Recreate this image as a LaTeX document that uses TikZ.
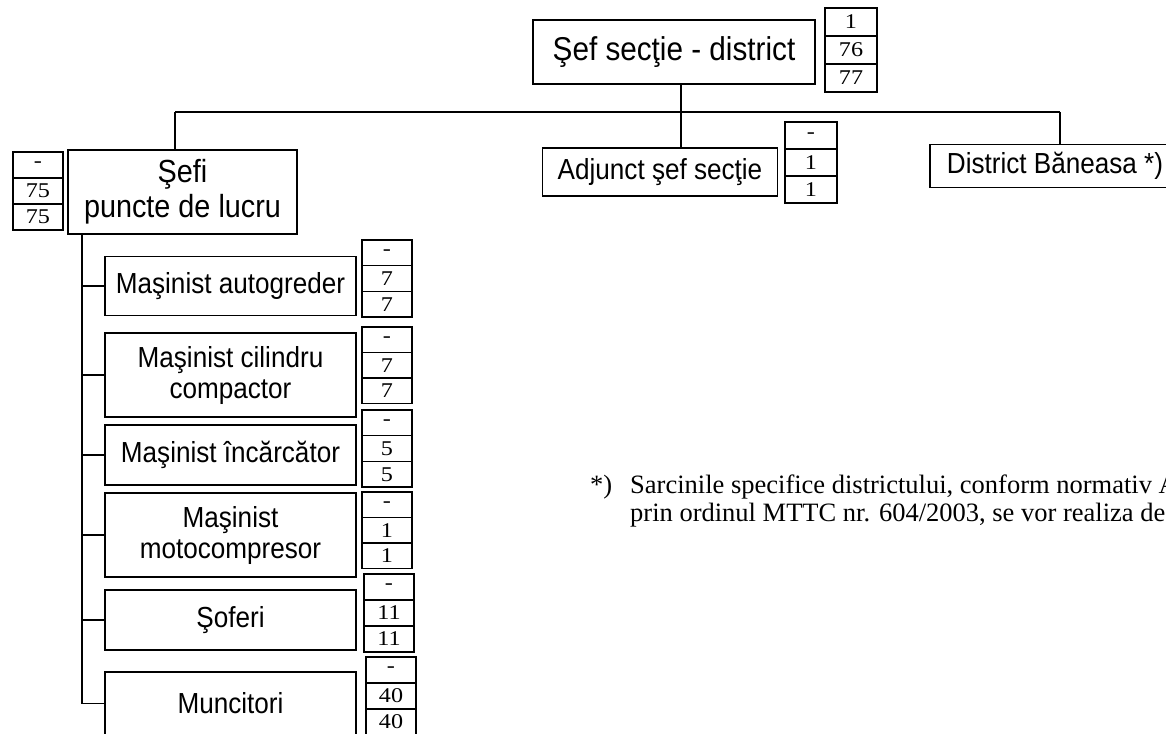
\documentclass[tikz,border=0pt]{standalone}
\usepackage{fontspec}
\setmainfont{Liberation Serif}
\newfontfamily\boxfont[FakeStretch=0.9]{Liberation Sans}
\newfontfamily\numfont[FakeStretch=1.15]{Liberation Serif}
\begin{document}
\begin{tikzpicture}[x=1pt,y=-1pt,
  box/.style={draw, line width=1.7pt, rectangle, inner sep=2pt, outer sep=0pt, align=center, font=\boxfont\fontsize{29}{31}\selectfont},
  bigbox/.style={box, font=\boxfont\fontsize{33}{35}\selectfont},
  numcell/.style={draw, line width=1.4pt, rectangle, inner sep=0pt, outer sep=0pt, minimum width=50pt, font=\numfont\fontsize{21}{22}\selectfont, anchor=north},
  conn/.style={line width=1.5pt},
  foot/.style={anchor=base west, inner sep=0pt, font=\fontsize{26.5}{28}\selectfont}]
\useasboundingbox (0,0) rectangle (1166,733);
\clip (0,0) rectangle (1166,733);

% top
\node[bigbox, minimum width=282pt, minimum height=64pt] (top) at (674,52) {Şef secţie - district};
\node[numcell, minimum height=28pt, minimum width=52pt] (ta) at (851,8) {1};
\node[numcell, minimum height=28pt, minimum width=52pt] (tb) at (ta.south) {76};
\node[numcell, minimum height=28pt, minimum width=52pt] (tc) at (tb.south) {77};

% second level
\node[bigbox, minimum width=229pt, minimum height=84pt, font=\boxfont\fontsize{32}{35}\selectfont] (sefi) at (182.5,192) {Şefi\\puncte de lucru};
\node[numcell, minimum height=26pt] (sa) at (38,152) {-};
\node[numcell, minimum height=26pt] (sb) at (sa.south) {75};
\node[numcell, minimum height=26pt] (sc) at (sb.south) {75};

\node[box, minimum width=235pt, minimum height=48pt] (adj) at (660,172) {Adjunct şef secţie};
\node[numcell, minimum height=27pt, minimum width=52pt] (aa) at (811,122) {-};
\node[numcell, minimum height=27pt, minimum width=52pt] (ab) at (aa.south) {1};
\node[numcell, minimum height=27pt, minimum width=52pt] (ac) at (ab.south) {1};

\node[box, minimum width=250pt, minimum height=43pt] (dist) at (1055,166) {District Băneasa *)};

% connectors top
\coordinate (vx) at (681,0);
\coordinate (busL) at (175,112);
\coordinate (busR) at (1060,112);
\draw[conn] (busL) -- (busR);
\draw[conn] (top.south -| vx) -- (adj.north -| vx);
\draw[conn] (busL) -- (sefi.north -| busL);
\draw[conn] (busR) -- (dist.north -| busR);

% children
\node[box, minimum width=251pt, minimum height=59pt] (c1) at (230.5,286) {Maşinist autogreder};
\node[box, minimum width=251pt, minimum height=84pt] (c2) at (230.5,375) {Maşinist cilindru\\compactor};
\node[box, minimum width=251pt, minimum height=60pt] (c3) at (230.5,455) {Maşinist încărcător};
\node[box, minimum width=251pt, minimum height=84pt] (c4) at (230.5,535) {Maşinist\\motocompresor};
\node[box, minimum width=251pt, minimum height=60pt] (c5) at (230.5,620) {Şoferi};
\node[box, minimum width=251pt, minimum height=63pt] (c6) at (230.5,703.5) {Muncitori};

\node[numcell, minimum height=25.7pt] (n1a) at (387,240) {-};
\node[numcell, minimum height=25.7pt] (n1b) at (n1a.south) {7};
\node[numcell, minimum height=25.7pt] (n1c) at (n1b.south) {7};

\node[numcell, minimum height=25.5pt] (n2a) at (387,327) {-};
\node[numcell, minimum height=25.5pt] (n2b) at (n2a.south) {7};
\node[numcell, minimum height=25.5pt] (n2c) at (n2b.south) {7};

\node[numcell, minimum height=25.7pt] (n3a) at (387,410) {-};
\node[numcell, minimum height=25.7pt] (n3b) at (n3a.south) {5};
\node[numcell, minimum height=25.7pt] (n3c) at (n3b.south) {5};

\node[numcell, minimum height=25.5pt] (n4a) at (387,492) {-};
\node[numcell, minimum height=25.5pt] (n4b) at (n4a.south) {1};
\node[numcell, minimum height=25.5pt] (n4c) at (n4b.south) {1};

\node[numcell, minimum height=26pt] (n5a) at (389,574) {-};
\node[numcell, minimum height=26pt] (n5b) at (n5a.south) {11};
\node[numcell, minimum height=26pt] (n5c) at (n5b.south) {11};

\node[numcell, minimum height=26pt] (n6a) at (391,657) {-};
\node[numcell, minimum height=26pt] (n6b) at (n6a.south) {40};
\node[numcell, minimum height=26pt] (n6c) at (n6b.south) {40};

% trunk
\coordinate (tx) at (82,0);
\draw[conn] (sefi.south -| tx) |- (c6.west);
\foreach \c in {c1,c2,c3,c4,c5}{
  \draw[conn] (tx |- \c.west) -- (\c.west);
}

% footnote
\node[foot] (fnm) at (590,493) {*)};
\node[foot] (fn1) at (630,493) {Sarcinile specifice districtului, conform normativ A};
\node[foot] (fn2) at (630,521) {prin ordinul MTTC nr. 604/2003, se vor realiza de};
\end{tikzpicture}
\end{document}
